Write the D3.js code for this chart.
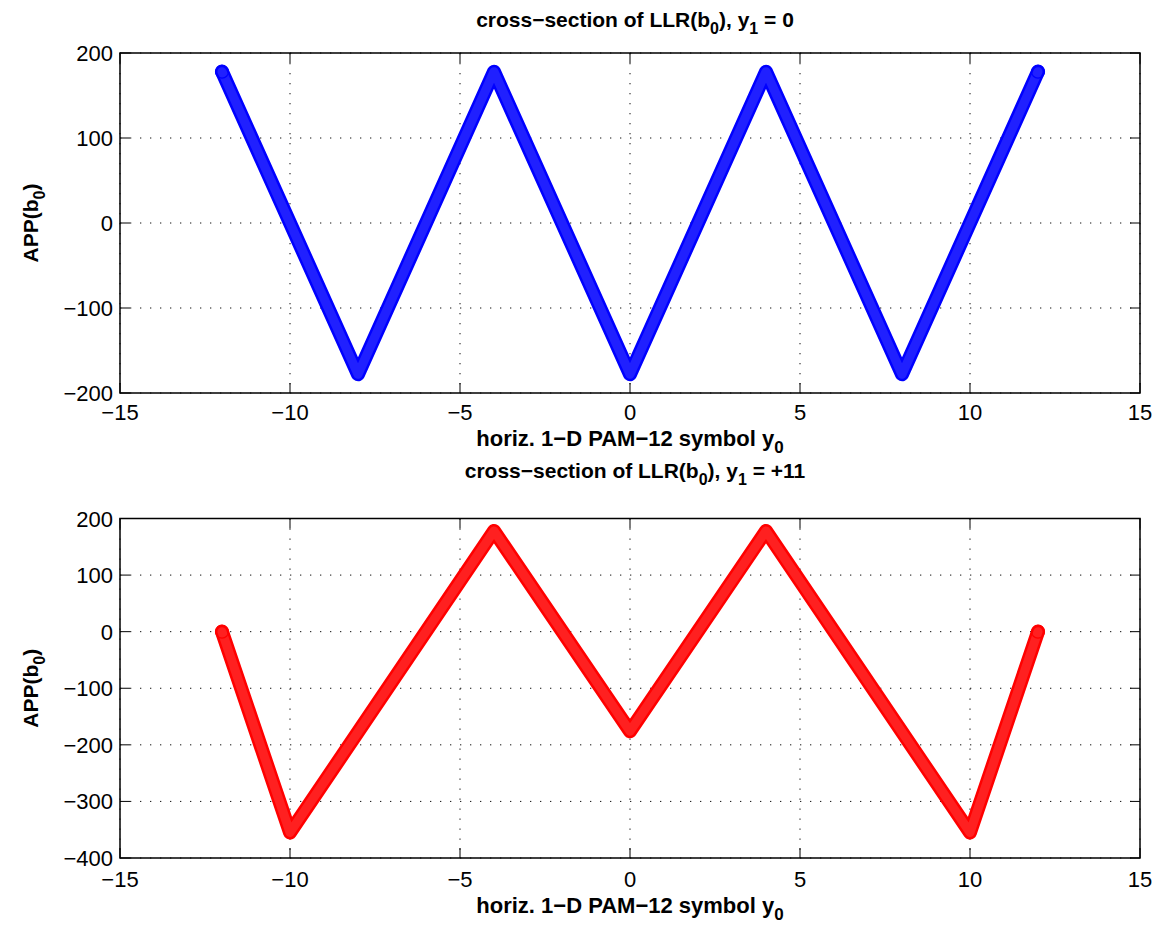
<!doctype html>
<html>
<head>
<meta charset="utf-8">
<script src="https://d3js.org/d3.v7.min.js"></script>
<title>cross-section of LLR</title>
<style>
  body { margin: 0; background: #fff; }
  svg { font-family: "Liberation Sans", Arial, Helvetica, sans-serif; }
</style>
</head>
<body>
<svg id="svg1" width="1158" height="926"></svg>
<script>
// data (knots of each piecewise-linear curve)
const topY0 = [-12, -8, -4, 0, 4, 8, 12];
const topAPP = [178, -178, 178, -178, 178, -178, 178];
const botY0 = [-12, -10, -4, 0, 4, 10, 12];
const botAPP = [0, -355, 178, -176, 178, -355, 0];

const xTicks = [-15, -10, -5, 0, 5, 10, 15];
const topYTicks = [-200, -100, 0, 100, 200];
const botYTicks = [-400, -300, -200, -100, 0, 100, 200];

const panels = [
  { title: "0", xs: topY0, ys: topAPP, yTicks: topYTicks, yDom: [-200, 200],
    color: "#0000ff", inner: "#2020ff", top: 53, bottom: 393, titleY: 27, xlabY: 446, tickY: 420 },
  { title: "+11", xs: botY0, ys: botAPP, yTicks: botYTicks, yDom: [-400, 200],
    color: "#ff0000", inner: "#ff2020", top: 518.5, bottom: 858, titleY: 478, xlabY: 913, tickY: 887 }
];

const left = 120, right = 1140;
const svg = d3.select("#svg1");
const fmt = v => (v < 0 ? "\u2212" + Math.abs(v) : String(v));

panels.forEach(p => {
  const x = d3.scaleLinear().domain([-15, 15]).range([left, right]);
  const y = d3.scaleLinear().domain(p.yDom).range([p.bottom, p.top]);
  const g = svg.append("g");

  // grid
  g.selectAll(".gx").data(xTicks).join("line")
    .attr("x1", d => x(d)).attr("x2", d => x(d))
    .attr("y1", p.top).attr("y2", p.bottom)
    .attr("stroke", "#111").attr("stroke-width", 1)
    .attr("stroke-dasharray", "1.3,8.7");
  g.selectAll(".gy").data(p.yTicks).join("line")
    .attr("y1", d => y(d)).attr("y2", d => y(d))
    .attr("x1", left).attr("x2", right)
    .attr("stroke", "#111").attr("stroke-width", 1)
    .attr("stroke-dasharray", "1.3,8.7");

  // curve
  const pts = p.xs.map((v, i) => [v, p.ys[i]]);
  const line = d3.line().x(d => x(d[0])).y(d => y(d[1]));
  g.append("path").attr("d", line(pts))
    .attr("fill", "none").attr("stroke", p.color).attr("stroke-width", 14)
    .attr("stroke-linejoin", "round").attr("stroke-linecap", "round");
  g.append("path").attr("d", line(pts))
    .attr("fill", "none").attr("stroke", p.inner).attr("stroke-width", 9)
    .attr("stroke-linejoin", "round").attr("stroke-linecap", "round");
  g.selectAll(".ring").data([pts[0], pts[pts.length - 1]]).join("circle")
    .attr("cx", d => x(d[0])).attr("cy", d => y(d[1])).attr("r", 6.5)
    .attr("fill", "none").attr("stroke", p.color).attr("stroke-width", 1.2);

  // box
  g.append("rect").attr("x", left).attr("y", p.top)
    .attr("width", right - left).attr("height", p.bottom - p.top)
    .attr("fill", "none").attr("stroke", "#000").attr("stroke-width", 1.5);

  // ticks (inward, mirrored)
  const tl = 10;
  xTicks.forEach(t => {
    g.append("line").attr("x1", x(t)).attr("x2", x(t)).attr("y1", p.bottom).attr("y2", p.bottom - tl).attr("stroke", "#000");
    g.append("line").attr("x1", x(t)).attr("x2", x(t)).attr("y1", p.top).attr("y2", p.top + tl).attr("stroke", "#000");
  });
  p.yTicks.forEach(t => {
    g.append("line").attr("x1", left).attr("x2", left + tl).attr("y1", y(t)).attr("y2", y(t)).attr("stroke", "#000");
    g.append("line").attr("x1", right).attr("x2", right - tl).attr("y1", y(t)).attr("y2", y(t)).attr("stroke", "#000");
  });

  // tick labels
  g.selectAll(".xl").data(xTicks).join("text")
    .attr("x", d => x(d)).attr("y", p.tickY)
    .attr("text-anchor", "middle").attr("font-size", 22).text(fmt);
  g.selectAll(".yl").data(p.yTicks).join("text")
    .attr("x", left - 7).attr("y", d => y(d) + 8)
    .attr("text-anchor", "end").attr("font-size", 22).text(fmt);

  // title
  const tt = g.append("text").attr("x", (left + right) / 2 + 5).attr("y", p.titleY)
    .attr("text-anchor", "middle").attr("font-size", 21).attr("font-weight", "bold");
  tt.append("tspan").text("cross\u2212section of LLR(b");
  tt.append("tspan").attr("dy", 7).attr("font-size", 16).text("0");
  tt.append("tspan").attr("dy", -7).text("), y");
  tt.append("tspan").attr("dy", 7).attr("font-size", 16).text("1");
  tt.append("tspan").attr("dy", -7).text(" = " + p.title);

  // x label
  const xl = g.append("text").attr("x", (left + right) / 2).attr("y", p.xlabY)
    .attr("text-anchor", "middle").attr("font-size", 22).attr("font-weight", "bold");
  xl.append("tspan").text("horiz. 1\u2212D PAM\u221212 symbol y");
  xl.append("tspan").attr("dy", 7).attr("font-size", 17).text("0");

  // y label
  const cy = (p.top + p.bottom) / 2;
  const yl = g.append("text").attr("transform", `translate(38,${cy}) rotate(-90)`)
    .attr("text-anchor", "middle").attr("font-size", 21).attr("font-weight", "bold");
  yl.append("tspan").text("APP(b");
  yl.append("tspan").attr("dy", 7).attr("font-size", 16).text("0");
  yl.append("tspan").attr("dy", -7).text(")");
});
</script>
</body>
</html>
